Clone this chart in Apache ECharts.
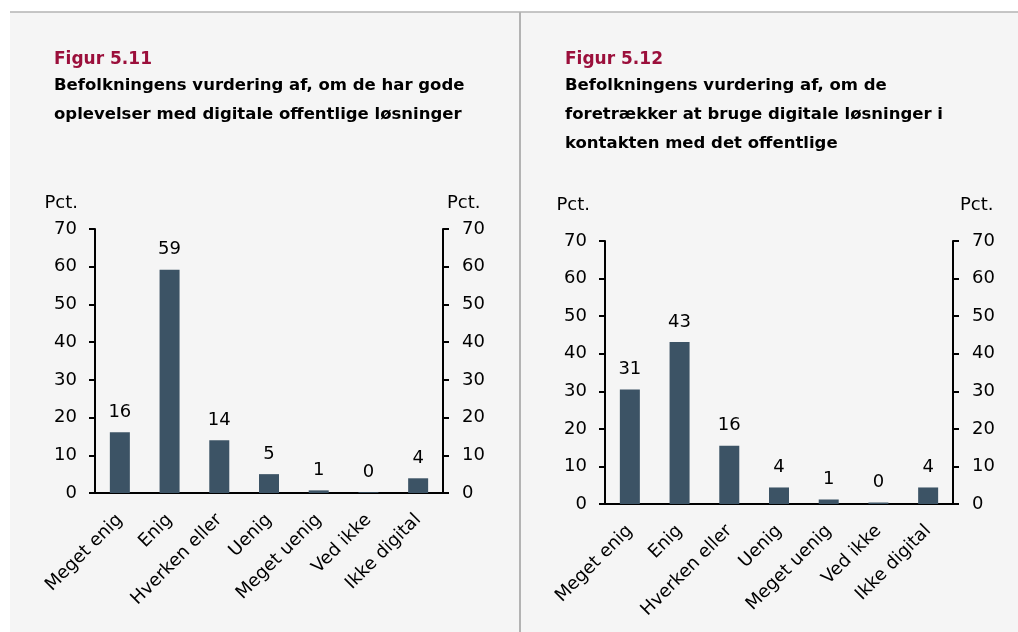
<!DOCTYPE html>
<html>
<head>
<meta charset="utf-8">
<script src="https://cdn.jsdelivr.net/npm/echarts@6/dist/echarts.min.js"></script>
<style>
  html, body { margin: 0; padding: 0; background: #fff; }
  #main { width: 1018px; height: 632px; }
</style>
</head>
<body>
<div id="main"></div>
<script>
// kategorier (fælles for begge figurer)
const categories = ['Meget enig', 'Enig', 'Hverken eller', 'Uenig', 'Meget uenig', 'Ved ikke', 'Ikke digital'];
// Figur 5.11 - gode oplevelser, pct.
const values511 = [16.1, 59.2, 14.0, 5.0, 0.7, 0.2, 3.9];
// Figur 5.12 - foretrækker digitale løsninger, pct.
const values512 = [30.5, 43.1, 15.5, 4.4, 1.2, 0.4, 4.4];
const yTicks = { min: 0, max: 70, interval: 10 };

const FONT = 'DejaVu Sans';
const barColor = '#3c5365';
const red = '#9b0f3b';

const myChart = echarts.init(document.getElementById('main'));

function yAx(grid, pos, margin) {
  return {
    type: 'value', gridIndex: grid, position: pos,
    min: yTicks.min, max: yTicks.max, interval: yTicks.interval,
    axisLine: { show: true, lineStyle: { color: '#000', width: 2 } },
    axisTick: { show: true, length: 6, lineStyle: { color: '#000', width: 2 } },
    axisLabel: { fontFamily: FONT, fontSize: 18, color: '#000', margin: margin },
    splitLine: { show: false }
  };
}
function xAx(grid) {
  return {
    type: 'category', gridIndex: grid, data: categories,
    axisLine: { lineStyle: { color: '#000', width: 2 } },
    axisTick: { length: 6, lineStyle: { color: '#000', width: 2 } },
    axisLabel: { fontFamily: FONT, fontSize: 18, color: '#000', rotate: 45, margin: 24, interval: 0 }
  };
}
function barSeries(xi, yi, data) {
  return {
    type: 'bar', xAxisIndex: xi, yAxisIndex: yi, data: data,
    barWidth: 20,
    itemStyle: { color: barColor },
    label: {
      show: true, position: 'top', distance: 11,
      fontFamily: FONT, fontSize: 18, color: '#000',
      formatter: (p) => Math.round(p.value)
    }
  };
}
function txt(x, y, s, size, color, bold, align) {
  return {
    type: 'text', x: x, y: y, z: 10,
    style: {
      text: s, fill: color, fontFamily: FONT, fontSize: size,
      fontWeight: bold ? 'bold' : 'normal',
      align: align || 'left', verticalAlign: 'middle'
    }
  };
}

const option = {
  animation: false,
  backgroundColor: '#fff',
  grid: [
    { left: 95, right: 1018 - 443, top: 229, bottom: 632 - 493, outerBoundsMode: 'none' },
    { left: 605, right: 1018 - 953, top: 241, bottom: 632 - 504, outerBoundsMode: 'none' }
  ],
  xAxis: [xAx(0), xAx(1)],
  yAxis: [yAx(0, 'left', 18), yAx(0, 'right', 19), yAx(1, 'left', 18), yAx(1, 'right', 19)],
  series: [barSeries(0, 0, values511), barSeries(1, 2, values512)],
  graphic: [
    { type: 'rect', z: -10, shape: { x: 10, y: 12, width: 1008, height: 620 }, style: { fill: '#f5f5f5' } },
    { type: 'line', z: -9, shape: { x1: 10, y1: 12, x2: 1018, y2: 12 }, style: { stroke: '#b3b3b3', lineWidth: 1.5 } },
    { type: 'line', z: -9, shape: { x1: 520, y1: 12, x2: 520, y2: 632 }, style: { stroke: '#b3b3b3', lineWidth: 2 } },
    txt(54, 60, 'Figur 5.11', 17, red, true),
    txt(54, 86, 'Befolkningens vurdering af, om de har gode', 16.5, '#000', true),
    txt(54, 115, 'oplevelser med digitale offentlige løsninger', 16.5, '#000', true),
    txt(565, 60, 'Figur 5.12', 17, red, true),
    txt(565, 86, 'Befolkningens vurdering af, om de', 16.5, '#000', true),
    txt(565, 115, 'foretrækker at bruge digitale løsninger i', 16.5, '#000', true),
    txt(565, 144, 'kontakten med det offentlige', 16.5, '#000', true),
    txt(78, 203, 'Pct.', 18, '#000', false, 'right'),
    txt(447, 203, 'Pct.', 18, '#000', false, 'left'),
    txt(590, 205, 'Pct.', 18, '#000', false, 'right'),
    txt(960, 205, 'Pct.', 18, '#000', false, 'left')
  ]
};
myChart.setOption(option);
</script>
</body>
</html>
